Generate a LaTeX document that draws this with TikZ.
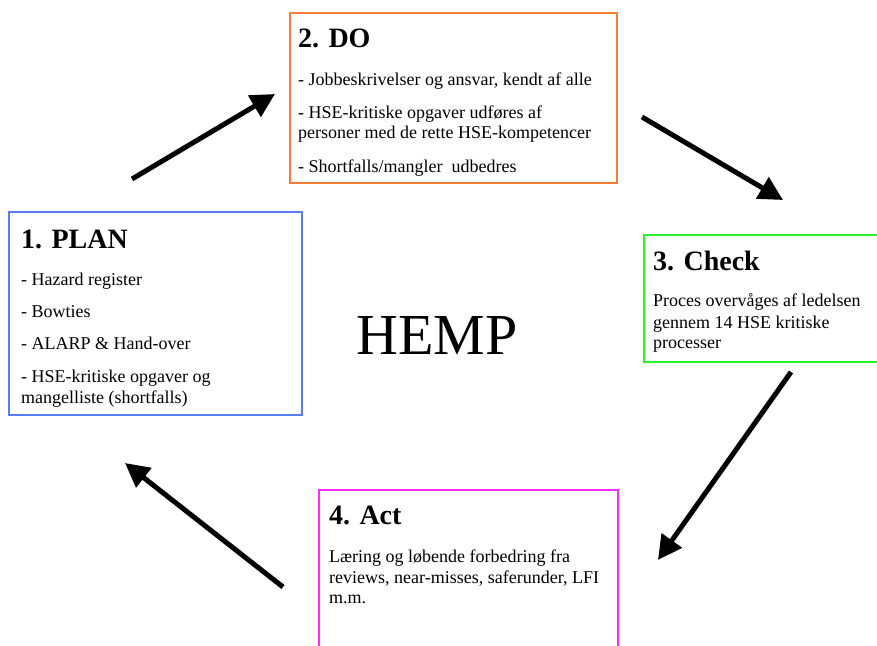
\documentclass[tikz,border=0pt]{standalone}
\usepackage{fontspec}
\setmainfont{Liberation Serif}
\usetikzlibrary{arrows.meta}
\definecolor{doorange}{RGB}{250,125,50}
\definecolor{planblue}{RGB}{85,125,250}
\definecolor{checkgreen}{RGB}{40,245,40}
\definecolor{actmagenta}{RGB}{255,40,255}
\tikzset{
  phasebox/.style={line width=1.6pt},
  titletext/.style={anchor=base west, inner sep=0pt, font=\fontsize{28}{30}\selectfont\bfseries},
  bodytext/.style={anchor=base west, inner sep=0pt, font=\fontsize{18}{21}\selectfont},
  cyclearrow/.style={line width=5pt, -{Triangle[length=24pt,width=24pt]}}
}
\begin{document}
\begin{tikzpicture}[x=1pt,y=-1pt]
\useasboundingbox (0,0) rectangle (877,645);
\clip (0,0) rectangle (877,645);
% boxes
\draw[phasebox, planblue] (9,212) rectangle (302,415);
\draw[phasebox, doorange] (290,13) rectangle (617,183);
\draw[phasebox, checkgreen] (644,235) rectangle (900,362);
\draw[phasebox, actmagenta] (319,490) rectangle (618,680);
% PLAN
\node[titletext] (plant) at (21,248) {1. PLAN};
\node[bodytext] (plan1) at (21,285) {- Hazard register};
\node[bodytext] (plan2) at (21,317) {- Bowties};
\node[bodytext] (plan3) at (21,349) {- ALARP \& Hand-over};
\node[bodytext] (plan4) at (21,382) {- HSE-kritiske opgaver og};
\node[bodytext] (plan5) at (21,403) {mangelliste (shortfalls)};
% DO
\node[titletext] (dot) at (298,47) {2. DO};
\node[bodytext] (do1) at (298,85) {- Jobbeskrivelser og ansvar, kendt af alle};
\node[bodytext] (do2) at (298,118) {- HSE-kritiske opgaver udføres af};
\node[bodytext] (do3) at (298,138) {personer med de rette HSE-kompetencer};
\node[bodytext] (do4) at (298,172) {- Shortfalls/mangler\ \ udbedres};
% Check
\node[titletext] (checkt) at (653,270) {3. Check};
\node[bodytext] (check1) at (653,306) {Proces overvåges af ledelsen};
\node[bodytext] (check2) at (653,328) {gennem 14 HSE kritiske};
\node[bodytext] (check3) at (653,348) {processer};
% Act
\node[titletext] (actt) at (329,524) {4. Act};
\node[bodytext] (act1) at (329,562) {Læring og løbende forbedring fra};
\node[bodytext] (act2) at (329,583) {reviews, near-misses, saferunder, LFI};
\node[bodytext] (act3) at (329,603) {m.m.};
% center
\node[anchor=base west, inner sep=0pt, font=\fontsize{58}{60}\selectfont] (hemp) at (356,354) {HEMP};
% arrows
\coordinate (a1s) at (132,179);
\coordinate (a1e) at (275,94);
\coordinate (a2s) at (642,117);
\coordinate (a2e) at (783,200);
\coordinate (a3s) at (791,372);
\coordinate (a3e) at (658,560);
\coordinate (a4s) at (283,587);
\coordinate (a4e) at (125,463);
\draw[cyclearrow] (a1s) -- (a1e);
\draw[cyclearrow] (a2s) -- (a2e);
\draw[cyclearrow] (a3s) -- (a3e);
\draw[cyclearrow] (a4s) -- (a4e);
\end{tikzpicture}
\end{document}
